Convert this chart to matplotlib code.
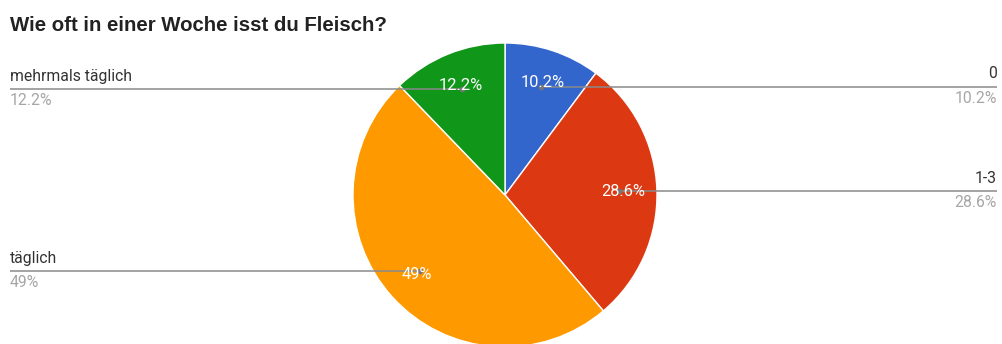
import numpy as np
import matplotlib
matplotlib.use("Agg")
import matplotlib.pyplot as plt

title = "Wie oft in einer Woche isst du Fleisch?"
categories = ["0", "1-3", "täglich", "mehrmals täglich"]
shares = [10.2, 28.6, 49.0, 12.2]
pct_labels = ["10.2%", "28.6%", "49%", "12.2%"]
colors = ["#3366cc", "#dc3912", "#ff9900", "#109618"]

W, H = 1002, 344
fig = plt.figure(figsize=(W / 100, H / 100), dpi=100)
ax = fig.add_axes([0, 0, 1, 1])

cx, cy, R = 505, H - 195, 152
ax.pie(shares, colors=colors, startangle=90, counterclock=False,
       center=(cx, cy), radius=R, frame=True,
       wedgeprops=dict(edgecolor="white", linewidth=1))
ax.set_xlim(0, W)
ax.set_ylim(0, H)
ax.set_aspect("equal")
ax.axis("off")

font = "Roboto"
fs = 11.3
line_col = "#8a8a8a"

fig.text(10 / W, 1 - 31 / H, title, fontsize=14.7, fontweight="bold",
         family="Liberation Sans", color="#222222", va="baseline", ha="left")

cum = np.cumsum([0] + shares[:-1])
for cat, share, start, lab in zip(categories, shares, cum, pct_labels):
    mid = np.deg2rad((start + share / 2) * 3.6)
    # leader dot and in-slice value label
    px = cx + 0.75 * R * np.sin(mid)
    py = cy + 0.75 * R * np.cos(mid)
    tx = cx + 0.78 * R * np.sin(mid)
    ty = cy + 0.78 * R * np.cos(mid)
    right = px > cx
    x_end = 997 if right else 10
    ax.plot([px, x_end], [py, py], color=line_col, lw=1.1, zorder=3,
            solid_capstyle="butt")
    ax.plot([px], [py], "o", ms=3, color="#777777", zorder=4)
    ax.text(tx, ty, lab, color="white", fontsize=11.8, family=font,
            ha="center", va="center", zorder=5)
    ha = "right" if right else "left"
    ax.text(x_end, py + 8.5, cat, color="#333333", fontsize=fs, family=font,
            ha=ha, va="baseline")
    ax.text(x_end, py - 16, lab, color="#a6a6a6", fontsize=fs, family=font,
            ha=ha, va="baseline")

fig.savefig("out.png", dpi=100)
